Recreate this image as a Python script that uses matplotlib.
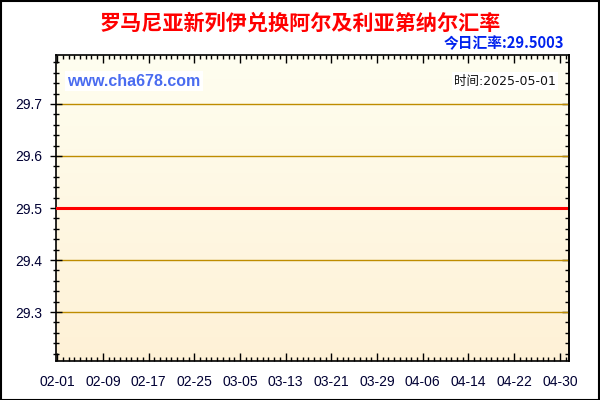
import numpy as np
import pandas as pd
import matplotlib
matplotlib.use('Agg')
import matplotlib.pyplot as plt
from matplotlib.patches import Rectangle
from matplotlib.ticker import MultipleLocator, NullFormatter

plt.rcParams['font.family'] = ['Liberation Sans', 'Noto Sans CJK SC', 'DejaVu Sans']

# data
dates = ['2025-02-01', '2025-05-01']
rates = [29.5003, 29.5003]
tick_labels = ['02-01', '02-09', '02-17', '02-25', '03-05', '03-13',
               '03-21', '03-29', '04-06', '04-14', '04-22', '04-30']
y_ticks = [29.3, 29.4, 29.5, 29.6, 29.7]

title = '罗马尼亚新列伊兑换阿尔及利亚第纳尔汇率'
today_text = '今日汇率:29.5003'
time_text = '时间:2025-05-01'
site_text = 'www.cha678.com'

start = pd.Timestamp(dates[0])
x = (pd.to_datetime(dates) - start).days.values
tick_x = [(pd.Timestamp('2025-' + t) - start).days for t in tick_labels]

fig = plt.figure(figsize=(6, 4), dpi=100)
ax = fig.add_axes([0.0933, 0.0975, 0.855, 0.765])

# gradient background (light cream at top -> warmer cream at bottom)
grad = np.linspace(0, 1, 256).reshape(-1, 1)
top_c = np.array([255, 254, 240]) / 255
bot_c = np.array([254, 241, 214]) / 255
img = top_c + (bot_c - top_c) * grad[..., None]
ax.imshow(img, extent=[0, 1, 0, 1], transform=ax.transAxes,
          aspect='auto', zorder=0, origin='upper')

for yv in y_ticks:
    if abs(yv - 29.5) > 1e-6:
        ax.axhline(yv, color='#BE8C00', linewidth=1, zorder=1)

ax.plot(x, rates, color='#FF0000', linewidth=2.2, zorder=3)

ax.set_xlim(-0.2, 89.6)
ax.set_ylim(29.206, 29.794)

ax.set_xticks(tick_x)
ax.set_xticklabels(tick_labels)
ax.xaxis.set_minor_locator(MultipleLocator(1))
ax.set_yticks(y_ticks)
ax.set_yticklabels([f'{v:.1f}' for v in y_ticks])
ax.yaxis.set_minor_locator(MultipleLocator(0.02))

ax.tick_params(axis='x', which='major', direction='in', length=6, width=1,
               top=True, labelsize=10, pad=10, labelcolor='#000033')
ax.tick_params(axis='x', which='minor', direction='in', length=3, width=1, top=True)
ax.tick_params(axis='y', which='major', direction='inout', length=8, width=1,
               labelsize=10, pad=6, labelcolor='#000033')
ax.tick_params(axis='y', which='minor', direction='inout', length=5, width=1)

# right axis: ticks pointing inwards only
rax = ax.secondary_yaxis('right')
rax.set_yticks(y_ticks)
rax.yaxis.set_minor_locator(MultipleLocator(0.02))
rax.yaxis.set_major_formatter(NullFormatter())
rax.tick_params(which='major', direction='in', length=5, width=1)
rax.tick_params(which='minor', direction='in', length=3, width=1)
rax.spines['right'].set_linewidth(1.2)

for sp in ax.spines.values():
    sp.set_linewidth(1.2)
    sp.set_color('black')

ax.text(0.022, 0.915, site_text, transform=ax.transAxes, color='#4A6CF0',
        fontsize=11.5, fontweight='bold', va='center', ha='left', zorder=4,
        bbox=dict(facecolor='white', edgecolor='none', pad=1.5))
ax.text(0.975, 0.915, time_text, transform=ax.transAxes, color='#111111',
        fontsize=9, va='center', ha='right', zorder=4,
        family=['DejaVu Sans', 'Noto Sans CJK SC'],
        bbox=dict(facecolor='white', edgecolor='none', pad=1.5))

fig.text(0.5, 0.943, title, color='#FF0000', fontsize=15.2, fontweight='bold',
         ha='center', va='center', family=['Noto Sans CJK SC', 'DejaVu Sans'])
fig.text(0.94, 0.893, today_text, color='#0022EE', fontsize=10.6, fontweight='bold',
         ha='right', va='center', family=['Noto Sans CJK SC', 'DejaVu Sans'])

fig.patches.append(Rectangle((0.001, 0.001), 0.997, 0.996, transform=fig.transFigure,
                             fill=False, edgecolor='black', linewidth=1.5))

fig.savefig('out.png', dpi=100)
